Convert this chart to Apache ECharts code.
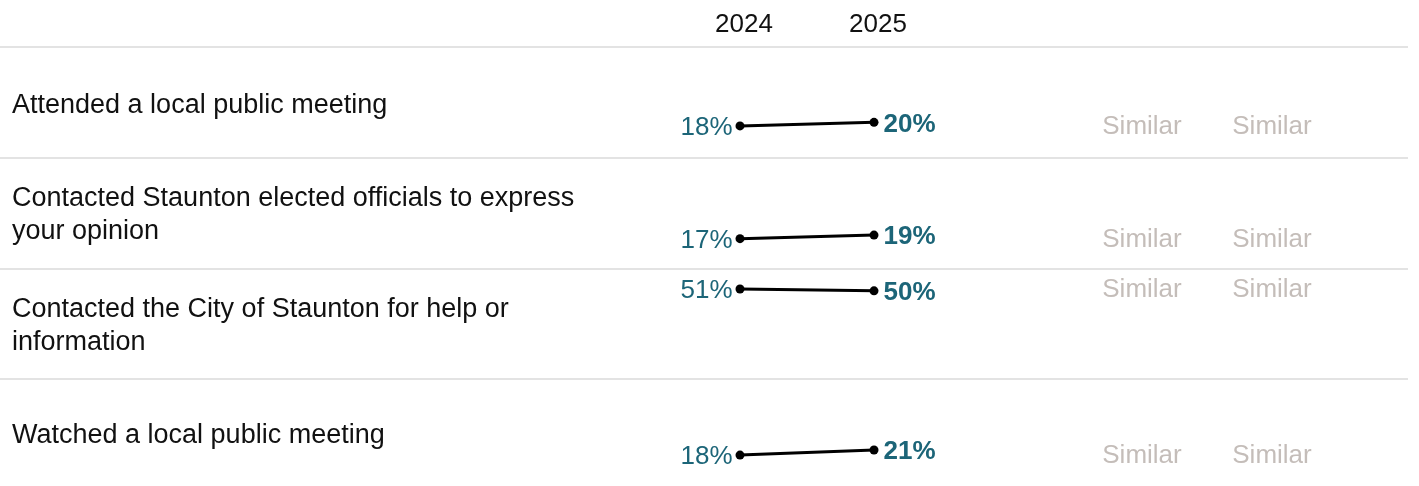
<!DOCTYPE html>
<html>
<head>
<meta charset="utf-8">
<script src="https://cdn.jsdelivr.net/npm/echarts@6/dist/echarts.min.js"></script>
<style>
  html, body { margin: 0; padding: 0; background: #fff; }
  #chart { width: 1419px; height: 486px; }
</style>
</head>
<body>
<div id="chart"></div>
<script>
const years = ["2024", "2025"];
const activities = [
  "Attended a local public meeting",
  "Contacted Staunton elected officials to express\nyour opinion",
  "Contacted the City of Staunton for help or\ninformation",
  "Watched a local public meeting",
];
const pct2024 = [18, 17, 51, 18];
const pct2025 = [20, 19, 50, 21];
const vsPrior = ["Similar", "Similar", "Similar", "Similar"];
const vsBenchmark = ["Similar", "Similar", "Similar", "Similar"];

const FONT = '"Liberation Sans", Arial, sans-serif';
const VALUE_COLOR = "#1c6578";
const COMPARE_COLOR = "#b5ada8";
const RULE_COLOR = "#dadada";

// row layout (px)
const rowTops = [47, 158, 269, 379];
const rowHeight = 110;

const chart = echarts.init(document.getElementById("chart"));

const grid = [];
const xAxis = [];
const yAxis = [];
const series = [];
const graphic = [];

rowTops.forEach((top, i) => {
  grid.push({ left: 740, width: 134, top: top + 4, height: 107 });
  xAxis.push({
    gridIndex: i,
    type: "category",
    data: years,
    boundaryGap: false,
    show: i === 0,
    position: "top",
    axisLine: { show: false },
    axisTick: { show: false },
    splitLine: { show: false },
    axisLabel: { fontSize: 26, color: "#111", fontFamily: FONT, margin: 13, padding: [0, 0, 0, 8] },
  });
  yAxis.push({ gridIndex: i, type: "value", min: 0, max: 60, show: false });

  series.push({
    type: "line",
    xAxisIndex: i,
    yAxisIndex: i,
    symbol: "circle",
    symbolSize: 9,
    lineStyle: { color: "#000", width: 3 },
    itemStyle: { color: "#000" },
    label: { show: true, formatter: "{c}%", fontSize: 26, color: VALUE_COLOR, fontFamily: FONT, offset: [0, 2] },
    data: [
      { value: pct2024[i], label: { position: "left", distance: 3 } },
      { value: pct2025[i], label: { position: "right", distance: 5, fontWeight: "bold" } },
    ],
  });

  [vsPrior, vsBenchmark].forEach((col, j) => {
    series.push({
      type: "scatter",
      xAxisIndex: i,
      yAxisIndex: i,
      symbolSize: 1,
      itemStyle: { color: "transparent" },
      label: {
        show: true,
        position: "inside",
        formatter: col[i],
        offset: [j === 0 ? 402 : 532, 1],
        fontSize: 26,
        color: COMPARE_COLOR,
        fontFamily: FONT,
      },
      data: [pct2024[i]],
    });
  });

  graphic.push({
    type: "line",
    shape: { x1: 0, y1: top, x2: 1408, y2: top },
    style: { stroke: RULE_COLOR, lineWidth: 1.5 },
    silent: true,
  });
  graphic.push({
    type: "text",
    x: 12,
    y: top + rowHeight / 2 + (i === 0 ? 4 : 2),
    style: {
      text: activities[i],
      font: "27px " + FONT,
      fill: "#111",
      verticalAlign: "middle",
      lineHeight: 33,
    },
    silent: true,
  });
});

chart.setOption({
  animation: false,
  grid,
  xAxis,
  yAxis,
  series,
  graphic,
});
</script>
</body>
</html>
